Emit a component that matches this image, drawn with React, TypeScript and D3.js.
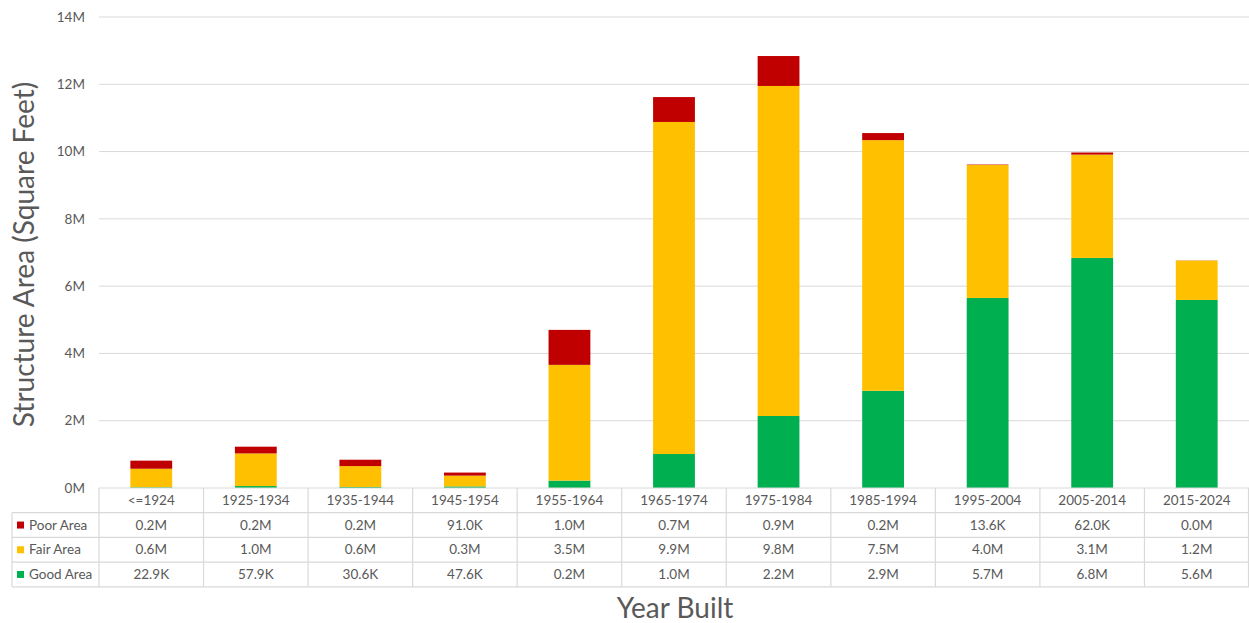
import React from "react";
import * as d3 from "d3";

const categories = ["<=1924", "1925-1934", "1935-1944", "1945-1954", "1955-1964", "1965-1974", "1975-1984", "1985-1994", "1995-2004", "2005-2014", "2015-2024"];
// values in millions of square feet
const goodArea = [0.0229, 0.0579, 0.0306, 0.0476, 0.22, 1.01, 2.14, 2.89, 5.65, 6.84, 5.59];
const fairArea = [0.55, 0.97, 0.62, 0.32, 3.44, 9.87, 9.81, 7.45, 3.95, 3.07, 1.17];
const poorArea = [0.24, 0.2, 0.19, 0.091, 1.04, 0.74, 0.89, 0.21, 0.0136, 0.062, 0.004];
const poorLabels = ["0.2M", "0.2M", "0.2M", "91.0K", "1.0M", "0.7M", "0.9M", "0.2M", "13.6K", "62.0K", "0.0M"];
const fairLabels = ["0.6M", "1.0M", "0.6M", "0.3M", "3.5M", "9.9M", "9.8M", "7.5M", "4.0M", "3.1M", "1.2M"];
const goodLabels = ["22.9K", "57.9K", "30.6K", "47.6K", "0.2M", "1.0M", "2.2M", "2.9M", "5.7M", "6.8M", "5.6M"];
const yTicks = [0, 2, 4, 6, 8, 10, 12, 14];

const W = 1249, H = 623;
const left = 99, right = 1249, top = 17, bottom = 488;
const rowH = 24.7;
const FONT = "Lato, 'Open Sans', sans-serif";
const TXT = "#595959";
const GRID = "#d9d9d9";

const seriesList = [
  { key: "good", name: "Good Area", values: goodArea, labels: goodLabels, color: "#00B050" },
  { key: "fair", name: "Fair Area", values: fairArea, labels: fairLabels, color: "#FFC000" },
  { key: "poor", name: "Poor Area", values: poorArea, labels: poorLabels, color: "#C00000" },
];

export default function App() {
  const x = d3.scaleBand<string>().domain(categories).range([left, right]).paddingInner(0.6).paddingOuter(0.3);
  const xCol = d3.scaleBand<string>().domain(categories).range([left, right]);
  const y = d3.scaleLinear().domain([0, 14]).range([bottom, top]);

  const rows = categories.map((c, i) => ({ cat: c, good: goodArea[i], fair: fairArea[i], poor: poorArea[i] }));
  const stacked = d3.stack<any>().keys(["good", "fair", "poor"])(rows);
  const colorOf: Record<string, string> = { good: "#00B050", fair: "#FFC000", poor: "#C00000" };

  const tableRows = [seriesList[2], seriesList[1], seriesList[0]];
  const tableBottom = bottom + rowH * 4;

  return (
    <svg width={W} height={H} style={{ position: "absolute", left: 0, top: 0, background: "#fff" }} fontFamily={FONT}>
      {yTicks.map((t) => (
        <g key={t}>
          {t > 0 && <line x1={left} x2={right} y1={y(t)} y2={y(t)} stroke={GRID} strokeWidth={1} />}
          <text x={85} y={y(t)} dy="0.35em" textAnchor="end" fontSize={13.5} fill={TXT}>{t}M</text>
        </g>
      ))}
      {stacked.map((s) => (
        <g key={s.key} fill={colorOf[s.key]}>
          {s.map((d, i) => (
            <rect key={i} x={x(categories[i])} width={x.bandwidth()} y={y(d[1])} height={Math.max(0, y(d[0]) - y(d[1]))} />
          ))}
        </g>
      ))}
      {/* data table */}
      <g stroke={GRID} strokeWidth={1.2} fill="none">
        <line x1={left} x2={right} y1={bottom} y2={bottom} />
        {[1, 2, 3].map((r) => (
          <line key={r} x1={12} x2={right} y1={bottom + rowH * r} y2={bottom + rowH * r} />
        ))}
        <line x1={12} x2={right} y1={tableBottom} y2={tableBottom} />
        <line x1={12} x2={12} y1={bottom + rowH} y2={tableBottom} />
        {categories.map((c) => (
          <line key={c} x1={xCol(c)} x2={xCol(c)} y1={bottom} y2={tableBottom} />
        ))}
        <line x1={right - 0.5} x2={right - 0.5} y1={bottom} y2={tableBottom} />
      </g>
      {categories.map((c) => (
        <text key={c} x={(xCol(c) as number) + xCol.bandwidth() / 2} y={bottom + rowH / 2} dy="0.35em" textAnchor="middle" fontSize={13.5} fill={TXT}>{c}</text>
      ))}
      {tableRows.map((s, r) => {
        const cy = bottom + rowH * (r + 1) + rowH / 2;
        return (
          <g key={s.key}>
            <rect x={17} y={cy - 3.5} width={7} height={7} fill={s.color} />
            <text x={29} y={cy} dy="0.35em" fontSize={13.5} fill={TXT}>{s.name}</text>
            {categories.map((c, i) => (
              <text key={c} x={(xCol(c) as number) + xCol.bandwidth() / 2} y={cy} dy="0.35em" textAnchor="middle" fontSize={13.5} fill={TXT}>{s.labels[i]}</text>
            ))}
          </g>
        );
      })}
      <text transform={`translate(34, ${(top + bottom) / 2 + 2}) rotate(-90)`} textAnchor="middle" fontSize={28} fill={TXT}>Structure Area (Square Feet)</text>
      <text x={675} y={608} dy="0.35em" textAnchor="middle" fontSize={28} fill={TXT}>Year Built</text>
    </svg>
  );
}
